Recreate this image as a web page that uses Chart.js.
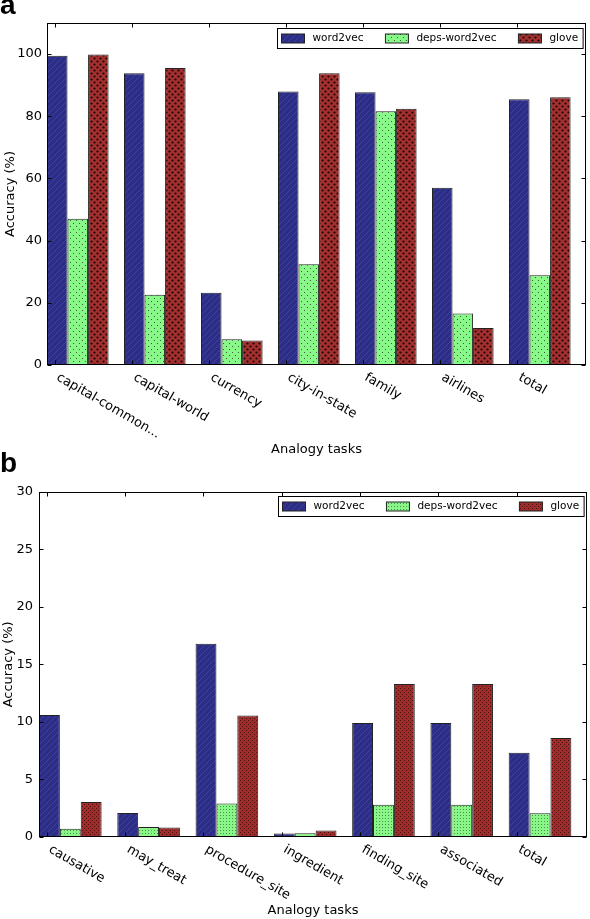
<!DOCTYPE html>
<html><head><meta charset="utf-8">
<script src="https://cdn.jsdelivr.net/npm/chart.js@4.4.0/dist/chart.umd.min.js"></script>
<style>
html,body{margin:0;padding:0;background:#fff;}
body{width:590px;height:919px;position:relative;overflow:hidden;}
#ca{position:absolute;left:0;top:0;}
#cb{position:absolute;left:0;top:460px;}
.panel{position:absolute;left:0;font:bold 28px "Liberation Sans",Arial,sans-serif;line-height:28px;color:#000;}
</style></head><body>
<canvas id="ca" width="590" height="460"></canvas>
<canvas id="cb" width="590" height="459"></canvas>
<div class="panel" style="top:-9px">a</div>
<div class="panel" style="top:449px">b</div>
<script>
// ---------- data ----------
const seriesNames = ['word2vec', 'deps-word2vec', 'glove'];

const categoriesA = ['capital-common...', 'capital-world', 'currency', 'city-in-state', 'family', 'airlines', 'total'];
const word2vecA = [99.5, 93.8, 23.2, 88.0, 87.7, 57.0, 85.5];
const depsA     = [47.0, 22.6, 8.3, 32.4, 81.6, 16.6, 28.9];
const gloveA    = [99.9, 95.5, 7.9, 93.8, 82.4, 11.9, 86.1];
const yTicksA   = [0, 20, 40, 60, 80, 100];

const categoriesB = ['causative', 'may_treat', 'procedure_site', 'ingredient', 'finding_site', 'associated', 'total'];
const word2vecB = [10.6, 2.08, 16.8, 0.3, 9.9, 9.9, 7.33];
const depsB     = [0.72, 0.87, 2.9, 0.32, 2.8, 2.8, 2.07];
const gloveB    = [3.05, 0.82, 10.55, 0.56, 13.3, 13.3, 8.6];
const yTicksB   = [0, 5, 10, 15, 20, 25, 30];

const xTitle = 'Analogy tasks';
const yTitle = 'Accuracy (%)';

// ---------- patterns ----------
function tile(w, h, draw) {
  const c = document.createElement('canvas');
  c.width = w; c.height = h;
  const g = c.getContext('2d');
  draw(g, w, h);
  return document.createElement('canvas').getContext('2d').createPattern(c, 'repeat');
}
function bluePattern() {
  return tile(6, 6, (g, w, h) => {
    g.fillStyle = '#2c2e85'; g.fillRect(0, 0, w, h);
    g.strokeStyle = '#3d40a0'; g.lineWidth = 1;
    g.beginPath();
    g.moveTo(0, h); g.lineTo(w, 0);
    g.moveTo(-w, h); g.lineTo(w, -h);
    g.moveTo(0, 2 * h); g.lineTo(2 * w, 0);
    g.stroke();
  });
}
function greenPattern(dense) {
  if (dense) return tile(3, 3, (g) => {
    g.fillStyle = '#88f788'; g.fillRect(0, 0, 3, 3);
    g.fillStyle = '#4f8f4f'; g.fillRect(1, 1, 1, 1);
  });
  return tile(6, 6, (g) => {
    g.fillStyle = '#88f888'; g.fillRect(0, 0, 6, 6);
    g.fillStyle = '#3a5a3a'; g.fillRect(1, 1, 1, 1); g.fillRect(4, 4, 1, 1);
  });
}
function redPattern(dense) {
  if (dense) return tile(4, 4, (g) => {
    g.fillStyle = '#a02c2c'; g.fillRect(0, 0, 4, 4);
    g.fillStyle = '#4a1010'; g.fillRect(0, 0, 1, 1); g.fillRect(2, 2, 1, 1);
  });
  return tile(6, 6, (g) => {
    g.fillStyle = '#a3302f'; g.fillRect(0, 0, 6, 6);
    g.fillStyle = '#1a0505';
    g.beginPath(); g.arc(1.5, 1.5, 1.1, 0, Math.PI * 2); g.fill();
    g.beginPath(); g.arc(4.5, 4.5, 1.1, 0, Math.PI * 2); g.fill();
  });
}

// ---------- decoration plugin ----------
const decoPlugin = {
  id: 'deco',
  afterDraw(chart, args, o) {
    const { ctx, chartArea: ca } = chart;
    const xs = chart.scales.x, ys = chart.scales.y;
    const L = Math.round(ca.left) + 0.5, R = Math.round(ca.right) - 0.5;
    const T = Math.round(ca.top) + 0.5, B = Math.round(ca.bottom) - 0.5;
    ctx.save();
    ctx.strokeStyle = '#000'; ctx.lineWidth = 1;
    // tick marks (inward, all four sides)
    ctx.beginPath();
    ys.ticks.forEach(t => {
      const py = Math.round(ys.getPixelForValue(t.value)) + 0.5;
      ctx.moveTo(L, py); ctx.lineTo(L + 4, py);
      ctx.moveTo(R, py); ctx.lineTo(R - 4, py);
    });
    o.categories.forEach((c, i) => {
      const px = Math.round(xs.getPixelForValue(i + o.tickOffset)) + 0.5;
      ctx.moveTo(px, T); ctx.lineTo(px, T + 4);
      ctx.moveTo(px, B); ctx.lineTo(px, B - 4);
    });
    ctx.stroke();
    // frame
    ctx.strokeRect(L, T, R - L, B - T);
    // rotated category labels
    ctx.fillStyle = '#000';
    ctx.font = '13px "DejaVu Sans"';
    ctx.textAlign = 'left'; ctx.textBaseline = 'top';
    o.categories.forEach((c, i) => {
      const px = xs.getPixelForValue(i + o.tickOffset);
      ctx.save();
      ctx.translate(px + 6, ca.bottom + 6);
      ctx.rotate(Math.PI / 6);
      ctx.fillText(c, 0, 0);
      ctx.restore();
    });
    // legend
    ctx.font = '10.5px "DejaVu Sans"';
    ctx.textBaseline = 'middle';
    const ds = chart.data.datasets;
    const widths = ds.map(d => ctx.measureText(d.label).width);
    let total = 4 + 5;
    widths.forEach((w, i) => { total += 23 + 8 + w + (i < ds.length - 1 ? 22 : 0); });
    const bx = Math.round(ca.right - 3 - total) + 0.5;
    const by = Math.round(ca.top + o.legendTop) + 0.5;
    const bh = 20;
    ctx.fillStyle = '#fff';
    ctx.fillRect(bx, by, total, bh);
    ctx.strokeStyle = '#000';
    ctx.strokeRect(bx, by, total, bh);
    let cx = bx + 4;
    const cy = by + bh / 2;
    ds.forEach((d, i) => {
      ctx.fillStyle = d.backgroundColor;
      ctx.fillRect(cx, cy - 4.5, 23, 9);
      ctx.strokeStyle = '#222';
      ctx.strokeRect(cx, cy - 4.5, 23, 9);
      ctx.fillStyle = '#000';
      ctx.fillText(d.label, cx + 31, cy);
      cx += 23 + 8 + widths[i] + 22;
    });
    ctx.restore();
  }
};

Chart.defaults.font.family = '"DejaVu Sans"';
Chart.defaults.font.size = 13;
Chart.defaults.color = '#000';

function makeChart(id, cats, series, yMax, yTicks, dims) {
  const toPoints = vals => vals.map((v, i) => ({ x: i + 0.4, y: v }));
  const fills = [bluePattern(), greenPattern(dims.dense), redPattern(dims.dense)];
  return new Chart(document.getElementById(id), {
    type: 'bar',
    data: {
      datasets: series.map((vals, k) => ({
        label: seriesNames[k],
        data: toPoints(vals),
        backgroundColor: fills[k],
        borderColor: '#222',
        borderWidth: 1,
        borderSkipped: false,
        categoryPercentage: 0.8,
        barPercentage: 1.0
      }))
    },
    options: {
      responsive: false,
      animation: false,
      devicePixelRatio: 1,
      layout: { padding: { top: dims.top, right: dims.right, left: 0, bottom: 0 } },
      plugins: {
        legend: { display: false },
        tooltip: { enabled: false },
        deco: { categories: cats, tickOffset: 0.1, legendTop: dims.legendTop }
      },
      scales: {
        x: {
          type: 'linear', min: 0, max: cats.length, offset: false,
          ticks: { display: false, stepSize: 1 },
          grid: { display: false, drawTicks: false },
          border: { display: false },
          title: { display: true, text: xTitle, font: { size: 13 }, padding: { top: 0, bottom: dims.xTitlePad } },
          afterFit: s => { s.height = dims.xHeight; }
        },
        y: {
          min: 0, max: yMax,
          ticks: { padding: dims.yPad, font: { size: 13 } },
          afterBuildTicks: s => { s.ticks = yTicks.map(v => ({ value: v })); },
          grid: { display: false, drawTicks: false },
          border: { display: false },
          title: { display: true, text: yTitle, font: { size: 13 }, padding: { top: dims.yTitlePad, bottom: 0 } },
          afterFit: s => { s.width = dims.yWidth; }
        }
      }
    },
    plugins: [decoPlugin]
  });
}

makeChart('ca', categoriesA, [word2vecA, depsA, gloveA], 110, yTicksA,
  { top: 23, right: 4, xHeight: 95, yWidth: 47, yPad: 5, xTitlePad: 2.2, yTitlePad: 2.8, legendTop: 5, dense: false });
makeChart('cb', categoriesB, [word2vecB, depsB, gloveB], 30, yTicksB,
  { top: 31.7, right: 3, xHeight: 82, yWidth: 39, yPad: 6, xTitlePad: 0.2, yTitlePad: 1, legendTop: 4.3, dense: true });
</script>
</body></html>
